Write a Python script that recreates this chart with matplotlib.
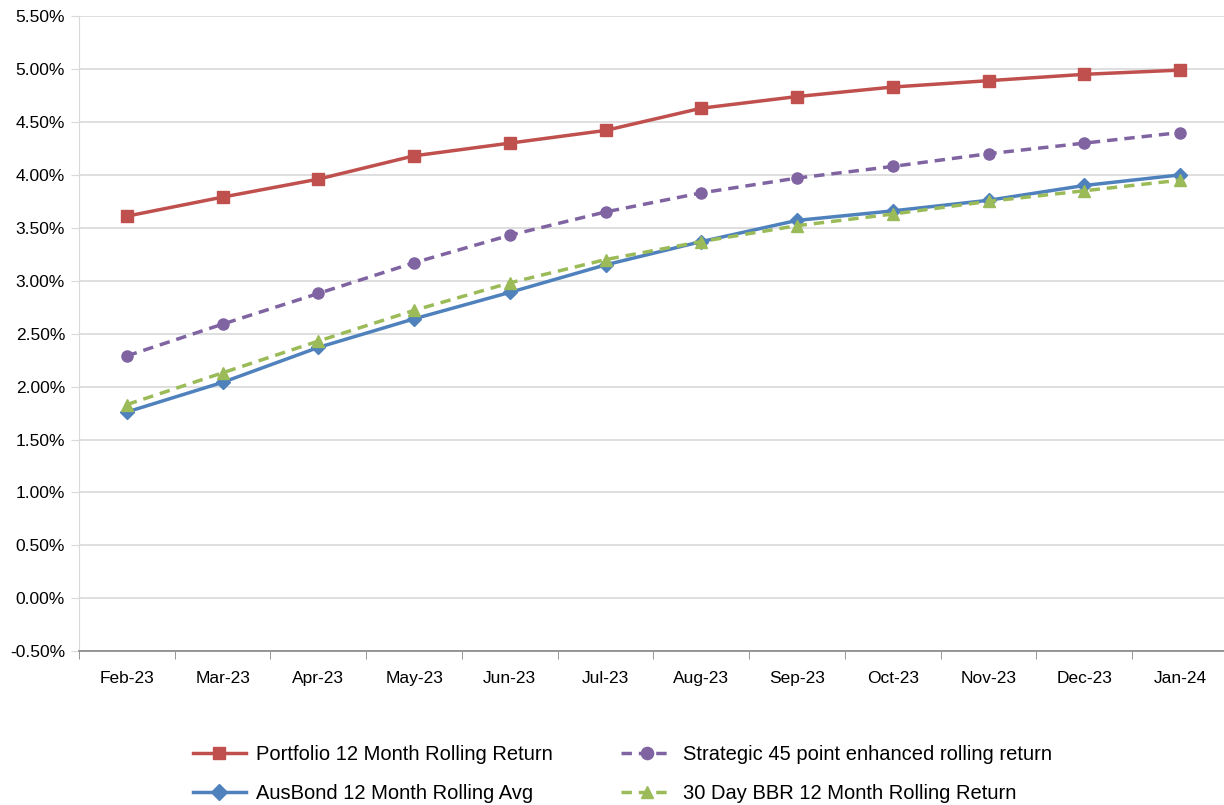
import matplotlib.pyplot as plt
from matplotlib.ticker import FuncFormatter, MultipleLocator

months = ['Feb-23', 'Mar-23', 'Apr-23', 'May-23', 'Jun-23', 'Jul-23',
          'Aug-23', 'Sep-23', 'Oct-23', 'Nov-23', 'Dec-23', 'Jan-24']

# wartości w procentach
portfolio = [3.61, 3.79, 3.96, 4.18, 4.30, 4.42, 4.63, 4.74, 4.83, 4.89, 4.95, 4.99]
strategic = [2.29, 2.59, 2.88, 3.17, 3.43, 3.65, 3.83, 3.97, 4.08, 4.20, 4.30, 4.40]
ausbond = [1.76, 2.04, 2.37, 2.64, 2.89, 3.15, 3.37, 3.57, 3.66, 3.76, 3.90, 4.00]
bbr = [1.83, 2.13, 2.43, 2.72, 2.98, 3.20, 3.37, 3.52, 3.63, 3.75, 3.85, 3.95]

plt.rcParams['font.family'] = ['Liberation Sans', 'DejaVu Sans']

fig = plt.figure(figsize=(12.24, 8.05), dpi=100)
ax = fig.add_axes([0.0645, 0.191, 0.9387, 0.789])

x = list(range(len(months)))
l1, = ax.plot(x, portfolio, color='#C0504D', linewidth=2.5, marker='s', markersize=8,
              label='Portfolio 12 Month Rolling Return')
l2, = ax.plot(x, strategic, color='#8064A2', linewidth=2.5, linestyle=(0, (3, 2)), marker='o',
              markersize=8, label='Strategic 45 point enhanced rolling return')
l3, = ax.plot(x, ausbond, color='#4F81BD', linewidth=2.5, marker='D', markersize=7,
              label='AusBond 12 Month Rolling Avg')
l4, = ax.plot(x, bbr, color='#9BBB59', linewidth=2.5, linestyle=(0, (3, 2)), marker='^',
              markersize=8, label='30 Day BBR 12 Month Rolling Return')

ax.set_xlim(-0.5, len(months) - 0.5)
ax.set_ylim(-0.5, 5.5)
ax.yaxis.set_major_locator(MultipleLocator(0.5))
ax.yaxis.set_major_formatter(FuncFormatter(lambda v, p: f'{v:.2f}%'))
ax.set_xticks(x)
ax.set_xticklabels(months)
ax.set_xticks([i - 0.5 for i in range(len(months) + 1)], minor=True)
ax.tick_params(axis='x', which='major', length=0, pad=14, labelsize=12.5)
ax.tick_params(axis='x', which='minor', length=6, color='#868686')
ax.tick_params(axis='y', length=6, color='#D9D9D9', labelsize=12.5, pad=4)

ax.grid(axis='y', color='#D9D9D9', linewidth=1.2)
ax.set_axisbelow(True)
for s in ['top', 'right']:
    ax.spines[s].set_visible(False)
ax.spines['left'].set_color('#D9D9D9')
ax.spines['bottom'].set_color('#868686')
ax.spines['bottom'].set_linewidth(1.2)

# kolejność wierszami: legenda w matplotlib wypełnia kolumny
fig.legend(handles=[l1, l3, l2, l4], ncol=2, loc='lower left',
           bbox_to_anchor=(0.143, -0.02), frameon=False, fontsize=14.5,
           handlelength=2.6, columnspacing=3.4, labelspacing=1.0, handletextpad=0.5,
           markerscale=1.1)

plt.savefig('out.png', dpi=100)
